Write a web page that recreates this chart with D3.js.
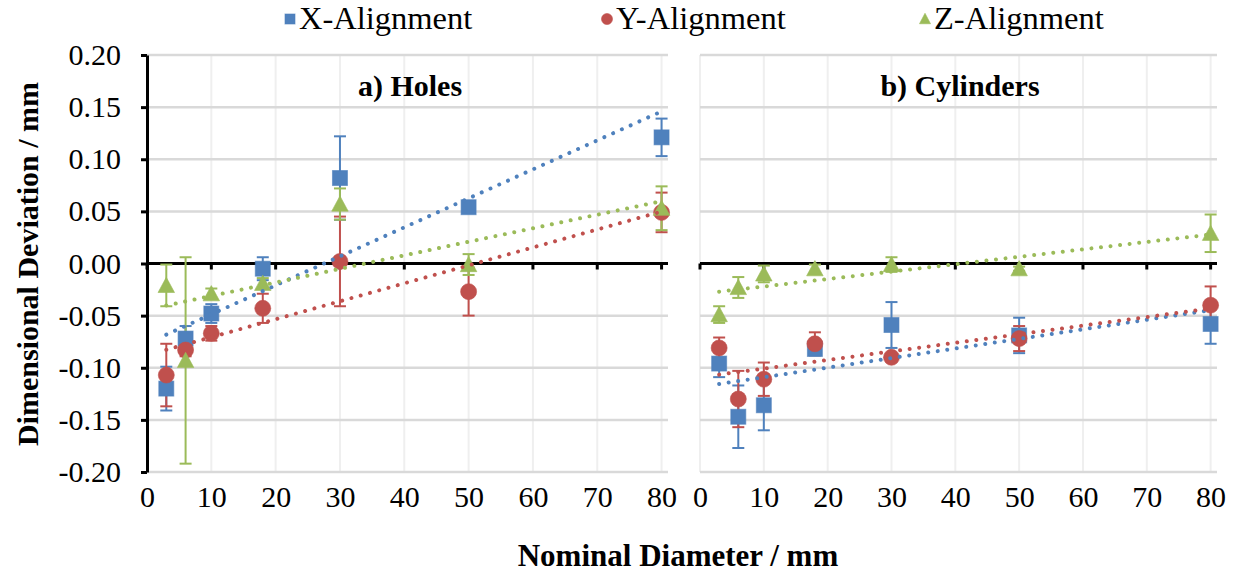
<!DOCTYPE html>
<html>
<head>
<meta charset="utf-8">
<script src="https://cdn.jsdelivr.net/npm/d3@7/dist/d3.min.js"></script>
<style>
body { margin: 0; background: #fff; }
svg text { font-family: 'Liberation Serif', 'Times New Roman', Tinos, 'DejaVu Serif', serif !important; fill: #000; }
</style>
</head>
<body>
<div id="chart"></div>
<script>
// nominal diameters (mm)
const diameters = [3, 6, 10, 18, 30, 50, 80]
const xTicks = [0, 10, 20, 30, 40, 50, 60, 70, 80]
const yTicks = [-0.2, -0.15, -0.1, -0.05, 0, 0.05, 0.1, 0.15, 0.2]
const seriesNames = ["X-Alignment", "Y-Alignment", "Z-Alignment"]
const panelTitles = ["a) Holes", "b) Cylinders"]

// a) holes
const holesX = [-0.120, -0.072, -0.048, -0.005, 0.082, 0.054, 0.121]
const holesXErr = [0.021, 0.012, 0.009, 0.011, 0.040, 0.003, 0.018]
const holesY = [-0.107, -0.083, -0.067, -0.043, 0.002, -0.027, 0.049]
const holesYErr = [0.030, 0.006, 0.007, 0.014, 0.043, 0.023, 0.019]
const holesZ = [-0.021, -0.093, -0.029, -0.019, 0.057, -0.001, 0.053]
const holesZErr = [0.020, 0.099, 0.005, 0.005, 0.015, 0.010, 0.021]

// b) cylinders
const cylX = [-0.096, -0.147, -0.136, -0.082, -0.059, -0.069, -0.058]
const cylXErr = [0.013, 0.030, 0.024, 0.006, 0.022, 0.017, 0.019]
const cylY = [-0.081, -0.130, -0.111, -0.077, -0.090, -0.072, -0.040]
const cylYErr = [0.010, 0.027, 0.016, 0.011, 0.003, 0.012, 0.018]
const cylZ = [-0.049, -0.023, -0.010, -0.005, -0.001, -0.005, 0.029]
const cylZErr = [0.008, 0.010, 0.008, 0.004, 0.007, 0.002, 0.018]

const colors = ["#4F81BD", "#C0504D", "#9BBB59"]
const shapes = ["square", "circle", "triangle"]
const serif = "'Liberation Serif', 'Times New Roman', Tinos, 'DejaVu Serif', serif"

const width = 1233, height = 573
const svg = d3.select("#chart").append("svg")
    .attr("width", width)
    .attr("height", height)
    .attr("font-family", serif)

const fmt = d3.formatLocale({ decimal: ".", thousands: ",", grouping: [3], currency: ["", ""], minus: "-" }).format(".2f")

const yScale = d3.scaleLinear().domain([-0.2, 0.2]).range([472, 55])

const panels = [
    { title: panelTitles[0], left: 147, right: 668, titleX: 410,
      values: [holesX, holesY, holesZ], errs: [holesXErr, holesYErr, holesZErr] },
    { title: panelTitles[1], left: 700, right: 1217, titleX: 960,
      values: [cylX, cylY, cylZ], errs: [cylXErr, cylYErr, cylZErr] }
]

function marker(g, shape, cx, cy, s, color) {
    if (shape === "square") {
        g.append("rect").attr("x", cx - s / 2).attr("y", cy - s / 2)
            .attr("width", s).attr("height", s)
            .attr("fill", color).attr("stroke", color).attr("stroke-opacity", 0.6).attr("stroke-width", 1)
    } else if (shape === "circle") {
        g.append("circle").attr("cx", cx).attr("cy", cy).attr("r", s / 2 + 0.5)
            .attr("fill", color).attr("stroke", color).attr("stroke-opacity", 0.6).attr("stroke-width", 1)
    } else {
        const h = s * 0.95, w = s * 1.1
        g.append("path")
            .attr("d", `M${cx},${cy - h / 2 - 1}L${cx + w / 2},${cy + h / 2}L${cx - w / 2},${cy + h / 2}Z`)
            .attr("fill", color).attr("stroke", color).attr("stroke-opacity", 0.6).attr("stroke-width", 1)
    }
}

function linFit(xs, ys) {
    const mx = d3.mean(xs), my = d3.mean(ys)
    const sxy = d3.sum(xs, (x, i) => (x - mx) * (ys[i] - my))
    const sxx = d3.sum(xs, x => (x - mx) * (x - mx))
    const b = sxy / sxx
    return { b: b, a: my - b * mx }
}

panels.forEach((p, pi) => {
    const xScale = d3.scaleLinear().domain([0, 81]).range([p.left, p.right])
    const g = svg.append("g")

    // vertical gridlines
    g.append("g").selectAll("line").data(xTicks).enter().append("line")
        .attr("x1", d => xScale(d)).attr("x2", d => xScale(d))
        .attr("y1", yScale(0.2)).attr("y2", yScale(-0.2))
        .attr("stroke", "#efefef").attr("stroke-width", 2)
    // horizontal gridlines
    g.append("g").selectAll("line").data(yTicks.filter(t => t !== 0)).enter().append("line")
        .attr("x1", p.left).attr("x2", p.right)
        .attr("y1", d => yScale(d)).attr("y2", d => yScale(d))
        .attr("stroke", "#d9d9d9").attr("stroke-width", 2.5)

    // x tick labels at the bottom
    const xAxis = g.append("g")
        .attr("transform", "translate(0," + yScale(-0.2) + ")")
        .call(d3.axisBottom(xScale).tickValues(xTicks).tickSize(0).tickPadding(14))
    xAxis.attr("font-family", serif)
    xAxis.select(".domain").remove()
    xAxis.selectAll("text").style("font-size", "30px").attr("fill", "#000")

    // zero line with ticks
    g.append("line")
        .attr("x1", p.left).attr("x2", p.right)
        .attr("y1", yScale(0)).attr("y2", yScale(0))
        .attr("stroke", "#000").attr("stroke-width", 3)
    g.append("g").selectAll("line").data(xTicks).enter().append("line")
        .attr("x1", d => xScale(d)).attr("x2", d => xScale(d))
        .attr("y1", yScale(0)).attr("y2", yScale(0) + 6)
        .attr("stroke", "#000").attr("stroke-width", 3)

    // y axis on the left panel only
    if (pi === 0) {
        const yAxis = g.append("g")
            .attr("transform", "translate(" + p.left + ",0)")
            .call(d3.axisLeft(yScale).tickValues(yTicks).tickSize(6).tickSizeOuter(0).tickPadding(20).tickFormat(fmt))
        yAxis.attr("font-family", serif)
        yAxis.select(".domain").attr("stroke-width", 3)
        yAxis.selectAll(".tick line").attr("stroke-width", 3)
        yAxis.selectAll("text").style("font-size", "30px").attr("fill", "#000")
    }

    // error bars
    p.values.forEach((vals, si) => {
        const eg = g.append("g").attr("stroke", colors[si]).attr("stroke-width", 2)
        vals.forEach((v, i) => {
            const x = xScale(diameters[i]), e = p.errs[si][i]
            const yt = yScale(v + e), yb = yScale(v - e)
            eg.append("line").attr("x1", x).attr("x2", x).attr("y1", yt).attr("y2", yb)
            eg.append("line").attr("x1", x - 6).attr("x2", x + 6).attr("y1", yt).attr("y2", yt)
            eg.append("line").attr("x1", x - 6).attr("x2", x + 6).attr("y1", yb).attr("y2", yb)
        })
    })

    // markers
    p.values.forEach((vals, si) => {
        const mg = g.append("g")
        vals.forEach((v, i) => marker(mg, shapes[si], xScale(diameters[i]), yScale(v), 15, colors[si]))
    })

    // linear trendlines (dotted)
    p.values.forEach((vals, si) => {
        const fit = linFit(diameters, vals)
        const x0 = d3.min(diameters), x1 = d3.max(diameters)
        g.append("line")
            .attr("x1", xScale(x0)).attr("x2", xScale(x1))
            .attr("y1", yScale(fit.a + fit.b * x0)).attr("y2", yScale(fit.a + fit.b * x1))
            .attr("stroke", colors[si]).attr("stroke-width", 4)
            .attr("stroke-linecap", "round").attr("stroke-dasharray", "0.01 9.6")
    })

    // panel title
    g.append("text")
        .attr("x", p.titleX).attr("y", 96)
        .attr("text-anchor", "middle")
        .style("font-size", "30px").style("font-weight", "bold")
        .text(p.title)
})

// axis titles
svg.append("text")
    .attr("x", 678).attr("y", 566)
    .attr("text-anchor", "middle")
    .style("font-size", "31px").style("font-weight", "bold")
    .text("Nominal Diameter / mm")
svg.append("text")
    .attr("transform", "translate(38,264) rotate(-90)")
    .attr("text-anchor", "middle")
    .style("font-size", "30px").style("font-weight", "bold")
    .text("Dimensional Deviation / mm")

// legend
const legendX = [290, 607, 925]
const legend = svg.append("g")
seriesNames.forEach((name, i) => {
    marker(legend, shapes[i], legendX[i], 19, 10, colors[i])
    legend.append("text")
        .attr("x", legendX[i] + 9).attr("y", 29)
        .style("font-size", "32.5px")
        .text(name)
})
</script>
</body>
</html>
